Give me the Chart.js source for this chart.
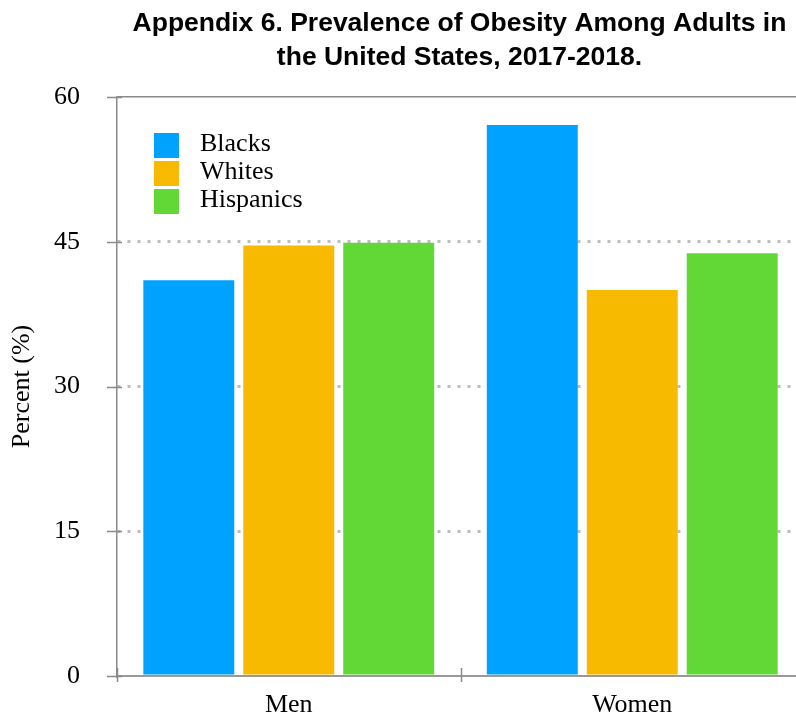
<!DOCTYPE html>
<html>
<head>
<meta charset="utf-8">
<script src="https://cdn.jsdelivr.net/npm/chart.js@4/dist/chart.umd.min.js"></script>
<style>
  html, body { margin: 0; padding: 0; background: #fff; overflow: hidden; }
  #wrap { width: 796px; height: 715px; overflow: hidden; }
  canvas { display: block; }
</style>
</head>
<body>
<div id="wrap"><canvas id="chart" width="806" height="715"></canvas></div>
<script>
// Chart data
const titleLines = ['Appendix 6. Prevalence of Obesity Among Adults in', 'the United States, 2017-2018.'];
const categories = ['Men', 'Women'];
const seriesNames = ['Blacks', 'Whites', 'Hispanics'];
const blacks = [41.0, 57.1];
const whites = [44.6, 40.0];
const hispanics = [44.9, 43.8];
const yTicks = [0, 15, 30, 45, 60];
const yTitle = 'Percent (%)';

const colors = ['#00A2FF', '#F8BA00', '#61D836'];
const serif = '"Liberation Serif", "Times New Roman", serif';
const axisGray = '#8a8a8a';

// title centred over the plot area
const titlePlugin = {
    id: 'plotTitle',
    afterDraw(chart) {
        const { ctx, chartArea } = chart;
        const cx = (chartArea.left + chartArea.right) / 2 - 1;
        ctx.save();
        ctx.fillStyle = '#000';
        ctx.font = 'bold 26.5px "Liberation Sans", Arial, sans-serif';
        ctx.textAlign = 'center';
        ctx.textBaseline = 'middle';
        titleLines.forEach((line, i) => {
            ctx.fillText(line, cx, 24 + i * 34);
        });
        ctx.restore();
    }
};

// legend drawn inside the plot, top-left
const legendPlugin = {
    id: 'insideLegend',
    afterDraw(chart) {
        const { ctx, chartArea } = chart;
        ctx.save();
        ctx.font = '26px ' + serif;
        ctx.textBaseline = 'middle';
        ctx.textAlign = 'left';
        chart.data.datasets.forEach((ds, i) => {
            const x = chartArea.left + 37;
            const y = chartArea.top + 36 + i * 28;
            ctx.fillStyle = ds.backgroundColor;
            ctx.fillRect(x, y, 25, 25);
            ctx.fillStyle = '#000';
            ctx.fillText(ds.label, x + 46, y + 11);
        });
        ctx.restore();
    }
};

// small tick marks that cross the axis lines
const crossTicks = {
    id: 'crossTicks',
    afterDraw(chart) {
        const { ctx, chartArea, scales } = chart;
        ctx.save();
        ctx.strokeStyle = axisGray;
        ctx.lineWidth = 1.5;
        ctx.beginPath();
        scales.y.ticks.forEach(t => {
            const py = Math.round(scales.y.getPixelForValue(t.value)) + 0.5;
            ctx.moveTo(chartArea.left - 10, py);
            ctx.lineTo(chartArea.left + 5, py);
        });
        const xs = scales.x;
        for (let i = 0; i < categories.length; i++) {
            const px = i === 0 ? chartArea.left
                : (xs.getPixelForValue(i - 1) + xs.getPixelForValue(i)) / 2;
            ctx.moveTo(Math.round(px) + 0.5, chartArea.bottom - 8);
            ctx.lineTo(Math.round(px) + 0.5, chartArea.bottom + 6);
        }
        ctx.stroke();
        ctx.restore();
    }
};

const ctx = document.getElementById('chart').getContext('2d');
new Chart(ctx, {
    type: 'bar',
    data: {
        labels: categories,
        datasets: [blacks, whites, hispanics].map((vals, i) => ({
            label: seriesNames[i],
            data: vals,
            backgroundColor: colors[i],
            borderWidth: 0,
            categoryPercentage: 0.873,
            barPercentage: 0.91
        }))
    },
    options: {
        responsive: false,
        animation: false,
        layout: { autoPadding: false, padding: { top: 97, right: 2, left: 0, bottom: 0 } },
        plugins: {
            legend: { display: false },
            tooltip: { enabled: false },
            title: { display: false }
        },
        scales: {
            x: {
                afterFit(scale) { scale.height = 39; },
                grid: { display: false, drawTicks: false },
                border: { display: true, color: '#999', width: 2 },
                ticks: {
                    color: '#000',
                    padding: 14,
                    font: { family: serif, size: 26 }
                }
            },
            y: {
                min: 0,
                max: 60,
                afterFit(scale) { scale.width = 117; },
                afterBuildTicks(scale) { scale.ticks = yTicks.map(v => ({ value: v })); },
                grid: {
                    drawTicks: true,
                    tickLength: 37,
                    tickColor: 'rgba(0,0,0,0)',
                    color: c => c.tick && c.tick.value === 0 ? 'rgba(0,0,0,0)'
                        : (c.tick && c.tick.value === 60 ? axisGray : '#bdbdbd'),
                    lineWidth: c => c.tick && c.tick.value === 60 ? 1.5 : 3
                },
                border: {
                    display: true,
                    color: axisGray,
                    width: 1.5,
                    dash: c => c.tick && c.tick.value !== 60 ? [3, 7] : []
                },
                ticks: {
                    color: '#000',
                    padding: 0,
                    font: { family: serif, size: 26 }
                },
                title: {
                    display: true,
                    text: yTitle,
                    color: '#000',
                    padding: { top: 7, bottom: 0 },
                    font: { family: serif, size: 26 }
                }
            }
        }
    },
    plugins: [titlePlugin, legendPlugin, crossTicks]
});
</script>
</body>
</html>
